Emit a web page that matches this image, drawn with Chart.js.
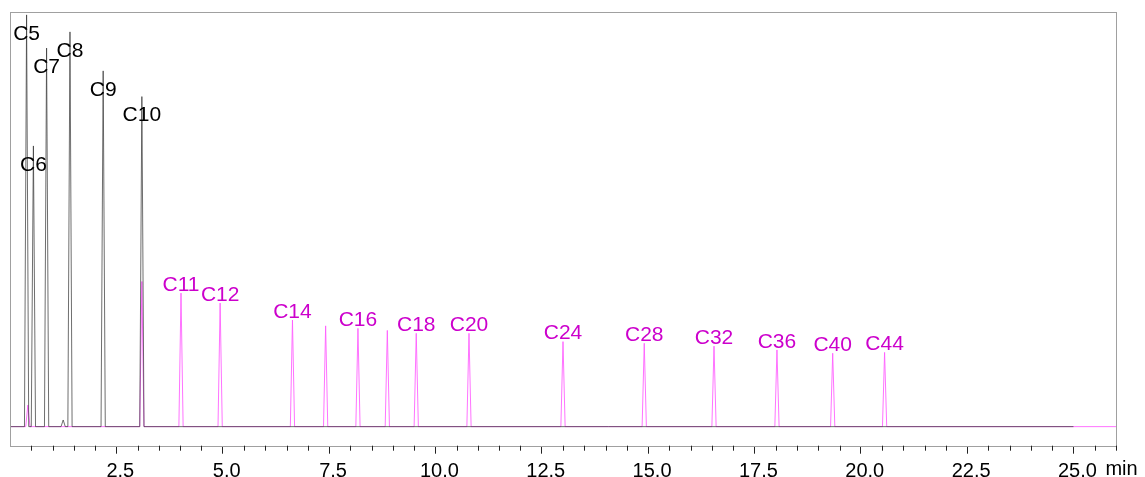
<!DOCTYPE html>
<html>
<head>
<meta charset="utf-8">
<script src="https://cdn.jsdelivr.net/npm/chart.js@4"></script>
<style>
  html, body { margin: 0; padding: 0; background: #fff; }
  #wrap { width: 1145px; height: 477px; }
</style>
</head>
<body>
<div id="wrap"><canvas id="chrom" width="1145" height="477"></canvas></div>
<script>
// retention times (min) and peak heights
const blackNames   = ["C5", "C6", "C7", "", "C8", "C9", "C10"];
const blackTimes   = [0.39, 0.55, 0.86, 1.25, 1.41, 2.19, 3.10];
const blackHeights = [99.3, 67.7, 91.3, 1.6, 95.2, 85.8, 79.6];
const blackEnd = 25.0;

const pinkNames   = ["", "", "C11", "C12", "C14", "", "C16", "", "C18", "C20", "C24", "C28", "C32", "C36", "C40", "C44"];
const pinkTimes   = [0.42, 3.10, 4.02, 4.94, 6.64, 7.42, 8.18, 8.87, 9.55, 10.79, 13.00, 14.91, 16.55, 18.03, 19.34, 20.56];
const pinkHeights = [5.2, 35.0, 32.2, 29.8, 25.7, 24.3, 23.7, 23.2, 22.5, 22.5, 20.5, 20.1, 19.4, 18.5, 17.7, 17.9];
const pinkEnd = 26.0;

const majorTicks = [0, 2.5, 5, 7.5, 10, 12.5, 15, 17.5, 20, 22.5, 25];
const xUnit = "min";

const HALF = 0.05; // half width of a peak foot
const FONT = '"Liberation Sans", Arial, sans-serif';

// peaks as narrow spikes on a flat baseline
function trace(times, heights, end) {
  const pts = [{ x: 0, y: 0 }];
  times.forEach((t, i) => {
    pts.push({ x: t - HALF, y: 0 }, { x: t, y: heights[i] }, { x: t + HALF, y: 0 });
  });
  pts.push({ x: end, y: 0 });
  return pts;
}

const extras = {
  id: "extras",
  afterDraw(chart) {
    const { ctx, chartArea: a, scales: { x, y } } = chart;
    ctx.save();
    // frame
    ctx.strokeStyle = "#a0a0a0";
    ctx.lineWidth = 1;
    ctx.strokeRect(Math.round(a.left) + 0.5, Math.round(a.top) + 0.5,
      Math.round(a.right - a.left), Math.round(a.bottom - a.top));
    // minor ticks
    ctx.strokeStyle = "#222";
    ctx.beginPath();
    for (let i = 1; i <= 52; i++) {
      if (i % 5 === 0) continue;
      const px = Math.round(x.getPixelForValue(i * 0.5)) + 0.5;
      ctx.moveTo(px, a.bottom);
      ctx.lineTo(px, a.bottom + 5);
    }
    ctx.stroke();
    // peak names
    ctx.font = "21px " + FONT;
    ctx.textAlign = "center";
    ctx.textBaseline = "middle";
    ctx.fillStyle = "#000";
    blackNames.forEach((n, i) => {
      if (!n) return;
      ctx.fillText(n, x.getPixelForValue(blackTimes[i]), y.getPixelForValue(blackHeights[i]) + 19);
    });
    ctx.fillStyle = "#cc00cc";
    pinkNames.forEach((n, i) => {
      if (!n) return;
      ctx.fillText(n, x.getPixelForValue(pinkTimes[i]), y.getPixelForValue(pinkHeights[i]) - 8);
    });
    // axis unit
    ctx.font = "20px " + FONT;
    ctx.fillStyle = "#000";
    ctx.textAlign = "left";
    ctx.textBaseline = "top";
    ctx.fillText(xUnit, x.getPixelForValue(25) + 32, a.bottom + 14);
    ctx.restore();
  }
};

new Chart(document.getElementById("chrom"), {
  type: "line",
  data: {
    datasets: [
      {
        data: trace(blackTimes, blackHeights, blackEnd),
        borderColor: "rgba(50,50,50,0.7)",
        borderWidth: 1,
        pointRadius: 0,
        tension: 0
      },
      {
        data: trace(pinkTimes, pinkHeights, pinkEnd),
        borderColor: "rgba(255,90,255,0.85)",
        borderWidth: 1,
        pointRadius: 0,
        tension: 0
      }
    ]
  },
  options: {
    responsive: false,
    animation: false,
    layout: { padding: { left: 10, right: 29, top: 12, bottom: 0 } },
    plugins: { legend: { display: false }, tooltip: { enabled: false } },
    scales: {
      x: {
        type: "linear",
        min: 0,
        max: 26,
        afterBuildTicks: axis => { axis.ticks = majorTicks.map(v => ({ value: v })); },
        afterFit: axis => { axis.height = 31.3; },
        ticks: {
          autoSkip: false,
          maxRotation: 0,
          labelOffset: 4,
          padding: 6,
          color: "#000",
          font: { family: FONT, size: 20 },
          callback: v => (v === 0 ? "" : Number(v).toFixed(1))
        },
        grid: {
          drawOnChartArea: false,
          tickLength: 8,
          color: c => (c.tick && c.tick.value === 0 ? "rgba(0,0,0,0)" : "#222")
        },
        border: { display: false }
      },
      y: { display: false, min: -4.6, max: 100 }
    }
  },
  plugins: [extras]
});
</script>
</body>
</html>
